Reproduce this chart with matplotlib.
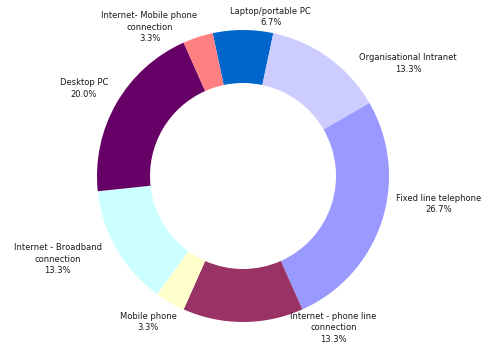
import matplotlib
matplotlib.use("Agg")
import matplotlib.pyplot as plt

# survey counts per technology (30 responses in total)
categories = [
    "Laptop/portable PC",
    "Organisational Intranet",
    "Fixed line telephone",
    "Internet - phone line\nconnection",
    "Mobile phone",
    "Internet - Broadband\nconnection",
    "Desktop PC",
    "Internet- Mobile phone\nconnection",
]
counts = [2, 4, 8, 4, 1, 4, 6, 1]

colours = ["#0066CC", "#CCCCFF", "#9999FF", "#993366",
           "#FFFFCC", "#CCFFFF", "#660066", "#FF8080"]

# where each label sits, in units of the outer radius
label_xy = [(0.19, 1.09), (1.13, 0.77), (1.34, -0.19), (0.62, -1.04),
            (-0.65, -1.00), (-1.27, -0.57), (-1.09, 0.60), (-0.64, 1.02)]

W, H = 482, 344
cx, cy, R = 243, 176, 146   # centre and radius in pixels

fig = plt.figure(figsize=(W / 100, H / 100), dpi=100)
ax = fig.add_axes([0, 0, 1, 1])

wedges, _ = ax.pie(counts, colors=colours, startangle=102, counterclock=False,
                   radius=1.0, wedgeprops=dict(width=0.363, linewidth=0))

total = sum(counts)
for name, c, (x, y) in zip(categories, counts, label_xy):
    ax.text(x, y, "%s\n%.1f%%" % (name, 100.0 * c / total),
            ha="center", va="center", fontsize=6.0, color="#1a1a1a",
            family="DejaVu Sans", linespacing=1.35)

ax.set_xlim(-cx / R, (W - cx) / R)
ax.set_ylim(-(H - cy) / R, cy / R)
ax.set_aspect("auto")
ax.axis("off")

fig.savefig("out.png", dpi=100)
